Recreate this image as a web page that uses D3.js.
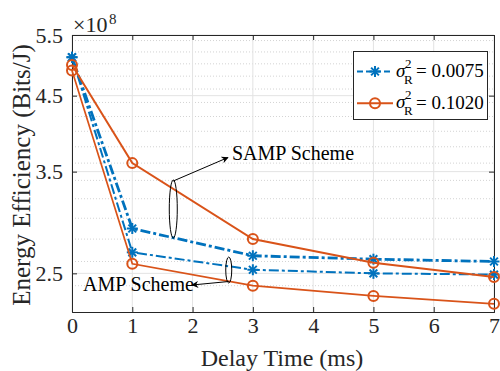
<!DOCTYPE html>
<html>
<head>
<meta charset="utf-8">
<script src="https://cdn.jsdelivr.net/npm/d3@7"></script>
<style>
  body { margin: 0; background: #fff; }
</style>
</head>
<body>
<div id="chart"></div>
<script>
// delay time (ms) on x, energy efficiency (x1e8 Bits/J) on y
const delay = [0, 1, 3, 5, 7];
const sampLowNoise = [5.11, 2.90, 2.65, 2.62, 2.60];   // sigma_R^2 = 0.0075, SAMP
const ampLowNoise = [5.11, 2.68, 2.53, 2.50, 2.49];    // sigma_R^2 = 0.0075, AMP
const sampHighNoise = [4.98, 3.60, 2.80, 2.59, 2.47];  // sigma_R^2 = 0.1020, SAMP
const ampHighNoise = [4.89, 2.58, 2.40, 2.32, 2.26];   // sigma_R^2 = 0.1020, AMP
const xTicks = [0, 1, 2, 3, 4, 5, 6, 7];
const yTicks = [2.5, 3.5, 4.5, 5.5];
const yMinor = [2.4, 2.6, 2.8, 3.0, 3.2, 3.4, 3.6, 3.8, 4.0, 4.2, 4.4, 4.6, 4.8, 5.0, 5.2, 5.4];
const legendLabels = ["0.0075", "0.1020"];

const blue = "#0072BD", orange = "#D95319";
const W = 500, H = 371;
const plotL = 72, plotR = 494, plotT = 35, plotB = 312;
const serif = "'Liberation Serif', 'Times New Roman', serif";

const svg = d3.select("#chart").append("svg")
  .attr("width", W).attr("height", H)
  .attr("font-family", serif);

const x = d3.scaleLinear().domain([0, 7]).range([plotL, plotR]);
const y = d3.scaleLog().domain([2.2, 5.5]).range([plotB, plotT]);

// grid
svg.append("g").selectAll("line").data(yMinor).enter().append("line")
  .attr("x1", plotL).attr("x2", plotR)
  .attr("y1", d => y(d)).attr("y2", d => y(d))
  .attr("stroke", "#c8c8c8").attr("stroke-width", 0.8).attr("stroke-dasharray", "1,2");
svg.append("g").selectAll("line").data(xTicks).enter().append("line")
  .attr("x1", d => x(d)).attr("x2", d => x(d))
  .attr("y1", plotT).attr("y2", plotB)
  .attr("stroke", "#e3e3e3").attr("stroke-width", 1);
svg.append("g").selectAll("line").data(yTicks).enter().append("line")
  .attr("x1", plotL).attr("x2", plotR)
  .attr("y1", d => y(d)).attr("y2", d => y(d))
  .attr("stroke", "#e3e3e3").attr("stroke-width", 1);

// axes
const axisColor = "#262626";
const bx = svg.append("g").attr("transform", "translate(0," + plotB + ")")
  .call(d3.axisBottom(x).tickValues(xTicks).tickSize(-5).tickPadding(5).tickFormat(d3.format("d")));
const tx = svg.append("g").attr("transform", "translate(0," + plotT + ")")
  .call(d3.axisTop(x).tickValues(xTicks).tickSize(-5).tickFormat(""));
const ly = svg.append("g").attr("transform", "translate(" + plotL + ",0)")
  .call(d3.axisLeft(y).tickValues(yTicks).tickSize(-5).tickPadding(9).tickFormat(d3.format(".1f")));
const ry = svg.append("g").attr("transform", "translate(" + plotR + ",0)")
  .call(d3.axisRight(y).tickValues(yTicks).tickSize(-5).tickFormat(""));
[bx, tx, ly, ry].forEach(g => {
  g.attr("font-family", serif);
  g.selectAll("path").attr("stroke", axisColor).attr("stroke-width", 1);
  g.selectAll("line").attr("stroke", axisColor);
  g.selectAll("text").attr("fill", axisColor).attr("font-size", 22);
});

// x10^8 exponent
svg.append("text").attr("x", 73).attr("y", 31.5).attr("font-size", 22).attr("fill", axisColor).text("\u00d710");
svg.append("text").attr("x", 109).attr("y", 24).attr("font-size", 15).attr("fill", axisColor).text("8");

// axis titles
svg.append("text").attr("x", 282).attr("y", 366).attr("text-anchor", "middle")
  .attr("font-size", 24).attr("fill", axisColor).text("Delay Time (ms)");
svg.append("text").attr("transform", "translate(30,175) rotate(-90)").attr("text-anchor", "middle")
  .attr("font-size", 25).attr("fill", axisColor).text("Energy Efficiency (Bits/J)");

// series
const line = d3.line().x((d, i) => x(delay[i])).y(d => y(d));
const series = [
  { v: sampLowNoise, color: blue, w: 2.8, dash: "10,3,3,3", marker: "star" },
  { v: ampLowNoise, color: blue, w: 2, dash: "10,3,3,3", marker: "star" },
  { v: sampHighNoise, color: orange, w: 2, dash: null, marker: "circle" },
  { v: ampHighNoise, color: orange, w: 1.7, dash: null, marker: "circle" }
];

function drawMarker(g, type, cx, cy, color) {
  if (type === "circle") {
    g.append("circle").attr("cx", cx).attr("cy", cy).attr("r", 5)
      .attr("fill", "none").attr("stroke", color).attr("stroke-width", 2);
  } else {
    const r = 5.5;
    [0, 45, 90, 135].forEach(a => {
      const rad = a * Math.PI / 180;
      g.append("line")
        .attr("x1", cx - r * Math.cos(rad)).attr("y1", cy - r * Math.sin(rad))
        .attr("x2", cx + r * Math.cos(rad)).attr("y2", cy + r * Math.sin(rad))
        .attr("stroke", color).attr("stroke-width", 2);
    });
  }
}

series.forEach(s => {
  svg.append("path").datum(s.v).attr("d", line)
    .attr("fill", "none").attr("stroke", s.color).attr("stroke-width", s.w)
    .attr("stroke-dasharray", s.dash);
  const mg = svg.append("g");
  s.v.forEach((d, i) => drawMarker(mg, s.marker, x(delay[i]), y(d), s.color));
});

// annotations
const ink = "#000";
svg.append("defs").append("marker").attr("id", "ah")
  .attr("viewBox", "0 0 10 10").attr("refX", 9).attr("refY", 5)
  .attr("markerWidth", 7).attr("markerHeight", 7).attr("orient", "auto-start-reverse")
  .append("path").attr("d", "M0,0 L10,5 L0,10 L3,5 z").attr("fill", ink);

svg.append("ellipse").attr("cx", x(1.68)).attr("cy", 209).attr("rx", 4).attr("ry", 29)
  .attr("fill", "none").attr("stroke", ink).attr("stroke-width", 1);
svg.append("line").attr("x1", x(1.68)).attr("y1", 181).attr("x2", 228).attr("y2", 157.5)
  .attr("stroke", ink).attr("stroke-width", 1).attr("marker-end", "url(#ah)");
svg.append("text").attr("x", 232).attr("y", 160).attr("font-size", 20).attr("fill", ink).text("SAMP Scheme");

svg.append("ellipse").attr("cx", x(2.6)).attr("cy", 270).attr("rx", 3).attr("ry", 13)
  .attr("fill", "none").attr("stroke", ink).attr("stroke-width", 1);
svg.append("line").attr("x1", x(2.6)).attr("y1", 281.5).attr("x2", 192).attr("y2", 285)
  .attr("stroke", ink).attr("stroke-width", 1).attr("marker-end", "url(#ah)");
svg.append("text").attr("x", 83).attr("y", 291).attr("font-size", 20).attr("fill", ink).text("AMP Scheme");

// legend
const lg = svg.append("g");
lg.append("rect").attr("x", 353.5).attr("y", 51.5).attr("width", 134).attr("height", 68)
  .attr("fill", "#fff").attr("stroke", axisColor).attr("stroke-width", 1);
[0, 1].forEach(i => {
  const cy = 71.5 + i * 31.8;
  const s = series[i * 2];
  lg.append("line").attr("x1", 357).attr("x2", 393).attr("y1", cy).attr("y2", cy)
    .attr("stroke", s.color).attr("stroke-width", 2).attr("stroke-dasharray", i === 0 ? "6,3" : null);
  drawMarker(lg, s.marker, 375, cy, s.color);
  lg.append("text").attr("x", 396).attr("y", cy + 5).attr("font-size", 19).attr("font-style", "italic").text("\u03c3");
  lg.append("text").attr("x", 405).attr("y", cy - 4).attr("font-size", 13).text("2");
  lg.append("text").attr("x", 404).attr("y", cy + 12).attr("font-size", 13).text("R");
  lg.append("text").attr("x", 416).attr("y", cy + 5.5).attr("font-size", 19).text("= " + legendLabels[i]);
});
</script>
</body>
</html>
